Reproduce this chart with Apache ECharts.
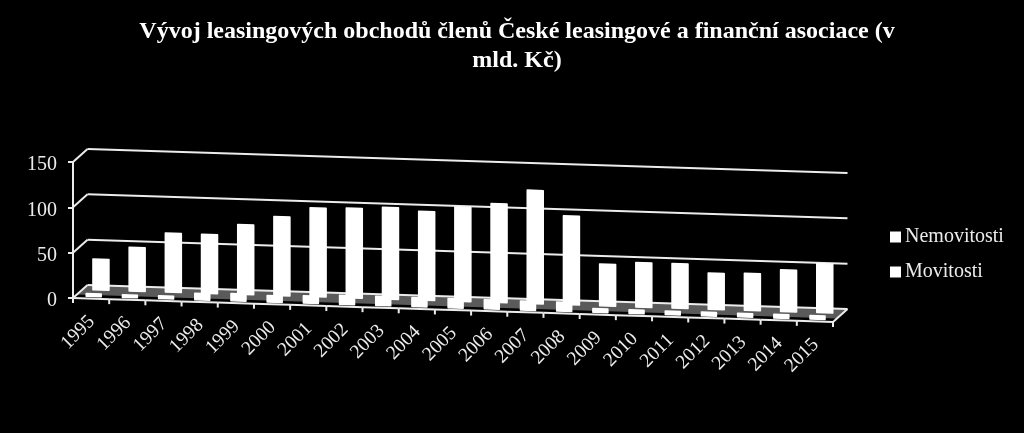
<!DOCTYPE html>
<html>
<head>
<meta charset="utf-8">
<style>html,body{margin:0;padding:0;background:#000}#c{width:1024px;height:433px}</style>
<script src="https://cdn.jsdelivr.net/npm/echarts@6/dist/echarts.min.js"></script>
</head>
<body>
<div id="c"></div>
<script>
const titleText = 'Vývoj leasingových obchodů členů České leasingové a finanční asociace (v\nmld. Kč)';
const categories = ['1995','1996','1997','1998','1999','2000','2001','2002','2003','2004','2005','2006','2007','2008','2009','2010','2011','2012','2013','2014','2015'];
const nemovitosti = [34,48,65,65,77,87,98,99,101,98,104,109,125,98,46,49,49,40,41,46,54];
const movitosti = [3,3,3,7,8,7,8,10,10,10,10,10,10,10,4,4,4,4,4,4,4];
const yTicks = [0,50,100,150];

const FONT = '"Liberation Serif","Times New Roman",serif';
const TXT = '#ececec', LINE = '#ececec';
const DX = 14.5, DY = 13, SLOPE = 0.0316;

function P(api, cat, v, d) {
  const o = api.coord([0, 0]);
  const band = api.size([1, 0])[0];
  const x0 = o[0] - band / 2;
  const y = api.coord([0, v])[1];
  const fx = x0 + (cat + 0.5) * band;
  return [fx + d * DX, y + (fx - x0) * SLOPE - d * DY];
}
function seg(a, b, w) {
  return {type:'line', shape:{x1:a[0],y1:a[1],x2:b[0],y2:b[1]}, style:{stroke:LINE,lineWidth:w||2,fill:null}};
}
function barItem(depth, width) {
  return function (params, api) {
    const i = api.value(0), v = api.value(1);
    const b = P(api, i, 0, depth), t = P(api, i, v, depth);
    const h = width / 2;
    return {type:'polygon', shape:{points:[[b[0]-h,b[1]],[b[0]+h,b[1]+width*SLOPE],[t[0]+h,t[1]+width*SLOPE],[t[0]-h,t[1]]]},
      style:{fill:'#fff',stroke:'#fff',lineWidth:1.5,lineJoin:'round'}};
  };
}
const last = categories.length - 1;

const chart = echarts.init(document.getElementById('c'));
chart.setOption({
  animation:false,
  backgroundColor:'#000',
  title:{text:titleText,left:512,textAlign:'center',top:12,itemGap:0,
    textStyle:{fontFamily:FONT,fontWeight:'bold',fontSize:24,color:'#fff',lineHeight:29}},
  legend:{orient:'vertical',left:885,top:222,itemWidth:11,itemHeight:11,itemGap:15,icon:'rect',
    data:['Nemovitosti','Movitosti'],selectedMode:false,
    textStyle:{fontFamily:FONT,fontSize:20,color:TXT,padding:[0,0,0,-1]}},
  grid:{left:73,right:191,top:162,bottom:135,containLabel:false},
  xAxis:{type:'category',data:categories,show:false},
  yAxis:{type:'value',min:0,max:150,interval:50,
    axisLine:{show:true,lineStyle:{color:LINE,width:2}},
    axisTick:{show:true,length:5,lineStyle:{color:LINE,width:2}},
    axisLabel:{margin:16,formatter:'{a|{value}}',
      rich:{a:{fontFamily:FONT,fontSize:20,color:TXT,padding:[6,0,0,0]}}},
    splitLine:{show:false}},
  series:[
    {type:'custom',name:'floor',silent:true,clip:false,z:1,data:[[0,0]],
      renderItem:(p,api)=>{
        const a=P(api,-0.5,0,0.27),b=P(api,last+0.5,0,0.27),c=P(api,last+0.5,0,1),d=P(api,-0.5,0,1);
        return {type:'polygon',shape:{points:[a,b,c,d]},style:{fill:'#5a5a5a'}};
      }},
    {type:'custom',name:'walls',silent:true,clip:false,z:2,data:yTicks.map(v=>[0,v]),
      renderItem:(p,api)=>{
        const v=api.value(1);
        return {type:'group',children:[
          seg(P(api,-0.5,v,0),P(api,-0.5,v,1)),
          seg(P(api,-0.5,v,1),P(api,last+0.5,v,1))
        ]};
      }},
    {type:'custom',name:'Nemovitosti',silent:true,clip:false,z:3,itemStyle:{color:'#fff'},
      data:nemovitosti.map((v,i)=>[i,v]),renderItem:barItem(0.68,16)},
    {type:'custom',name:'Movitosti',silent:true,clip:false,z:4,itemStyle:{color:'#fff'},
      data:movitosti.map((v,i)=>[i,v]),renderItem:barItem(0.18,15)},
    {type:'custom',name:'frame',silent:true,clip:false,z:5,data:categories.map((c,i)=>[i,0]),
      renderItem:(p,api)=>{
        const i=api.value(0);
        const a=P(api,i-0.5,0,0),b=P(api,i+0.5,0,0),m=P(api,i,0,0);
        const kids=[seg(a,b),seg(b,[b[0],b[1]+5])];
        if(i===0) kids.push(seg(a,[a[0],a[1]+5]));
        if(i===last) kids.push(seg(b,P(api,i+0.5,0,1)));
        kids.push({type:'text',rotation:Math.PI/4,x:m[0]-13,y:m[1]+34,originX:0,originY:0,
          style:{text:categories[i],fontFamily:FONT,fontSize:19.5,fill:TXT,align:'center',verticalAlign:'middle'}});
        return {type:'group',children:kids};
      }}
  ]
});
</script>
</body>
</html>
